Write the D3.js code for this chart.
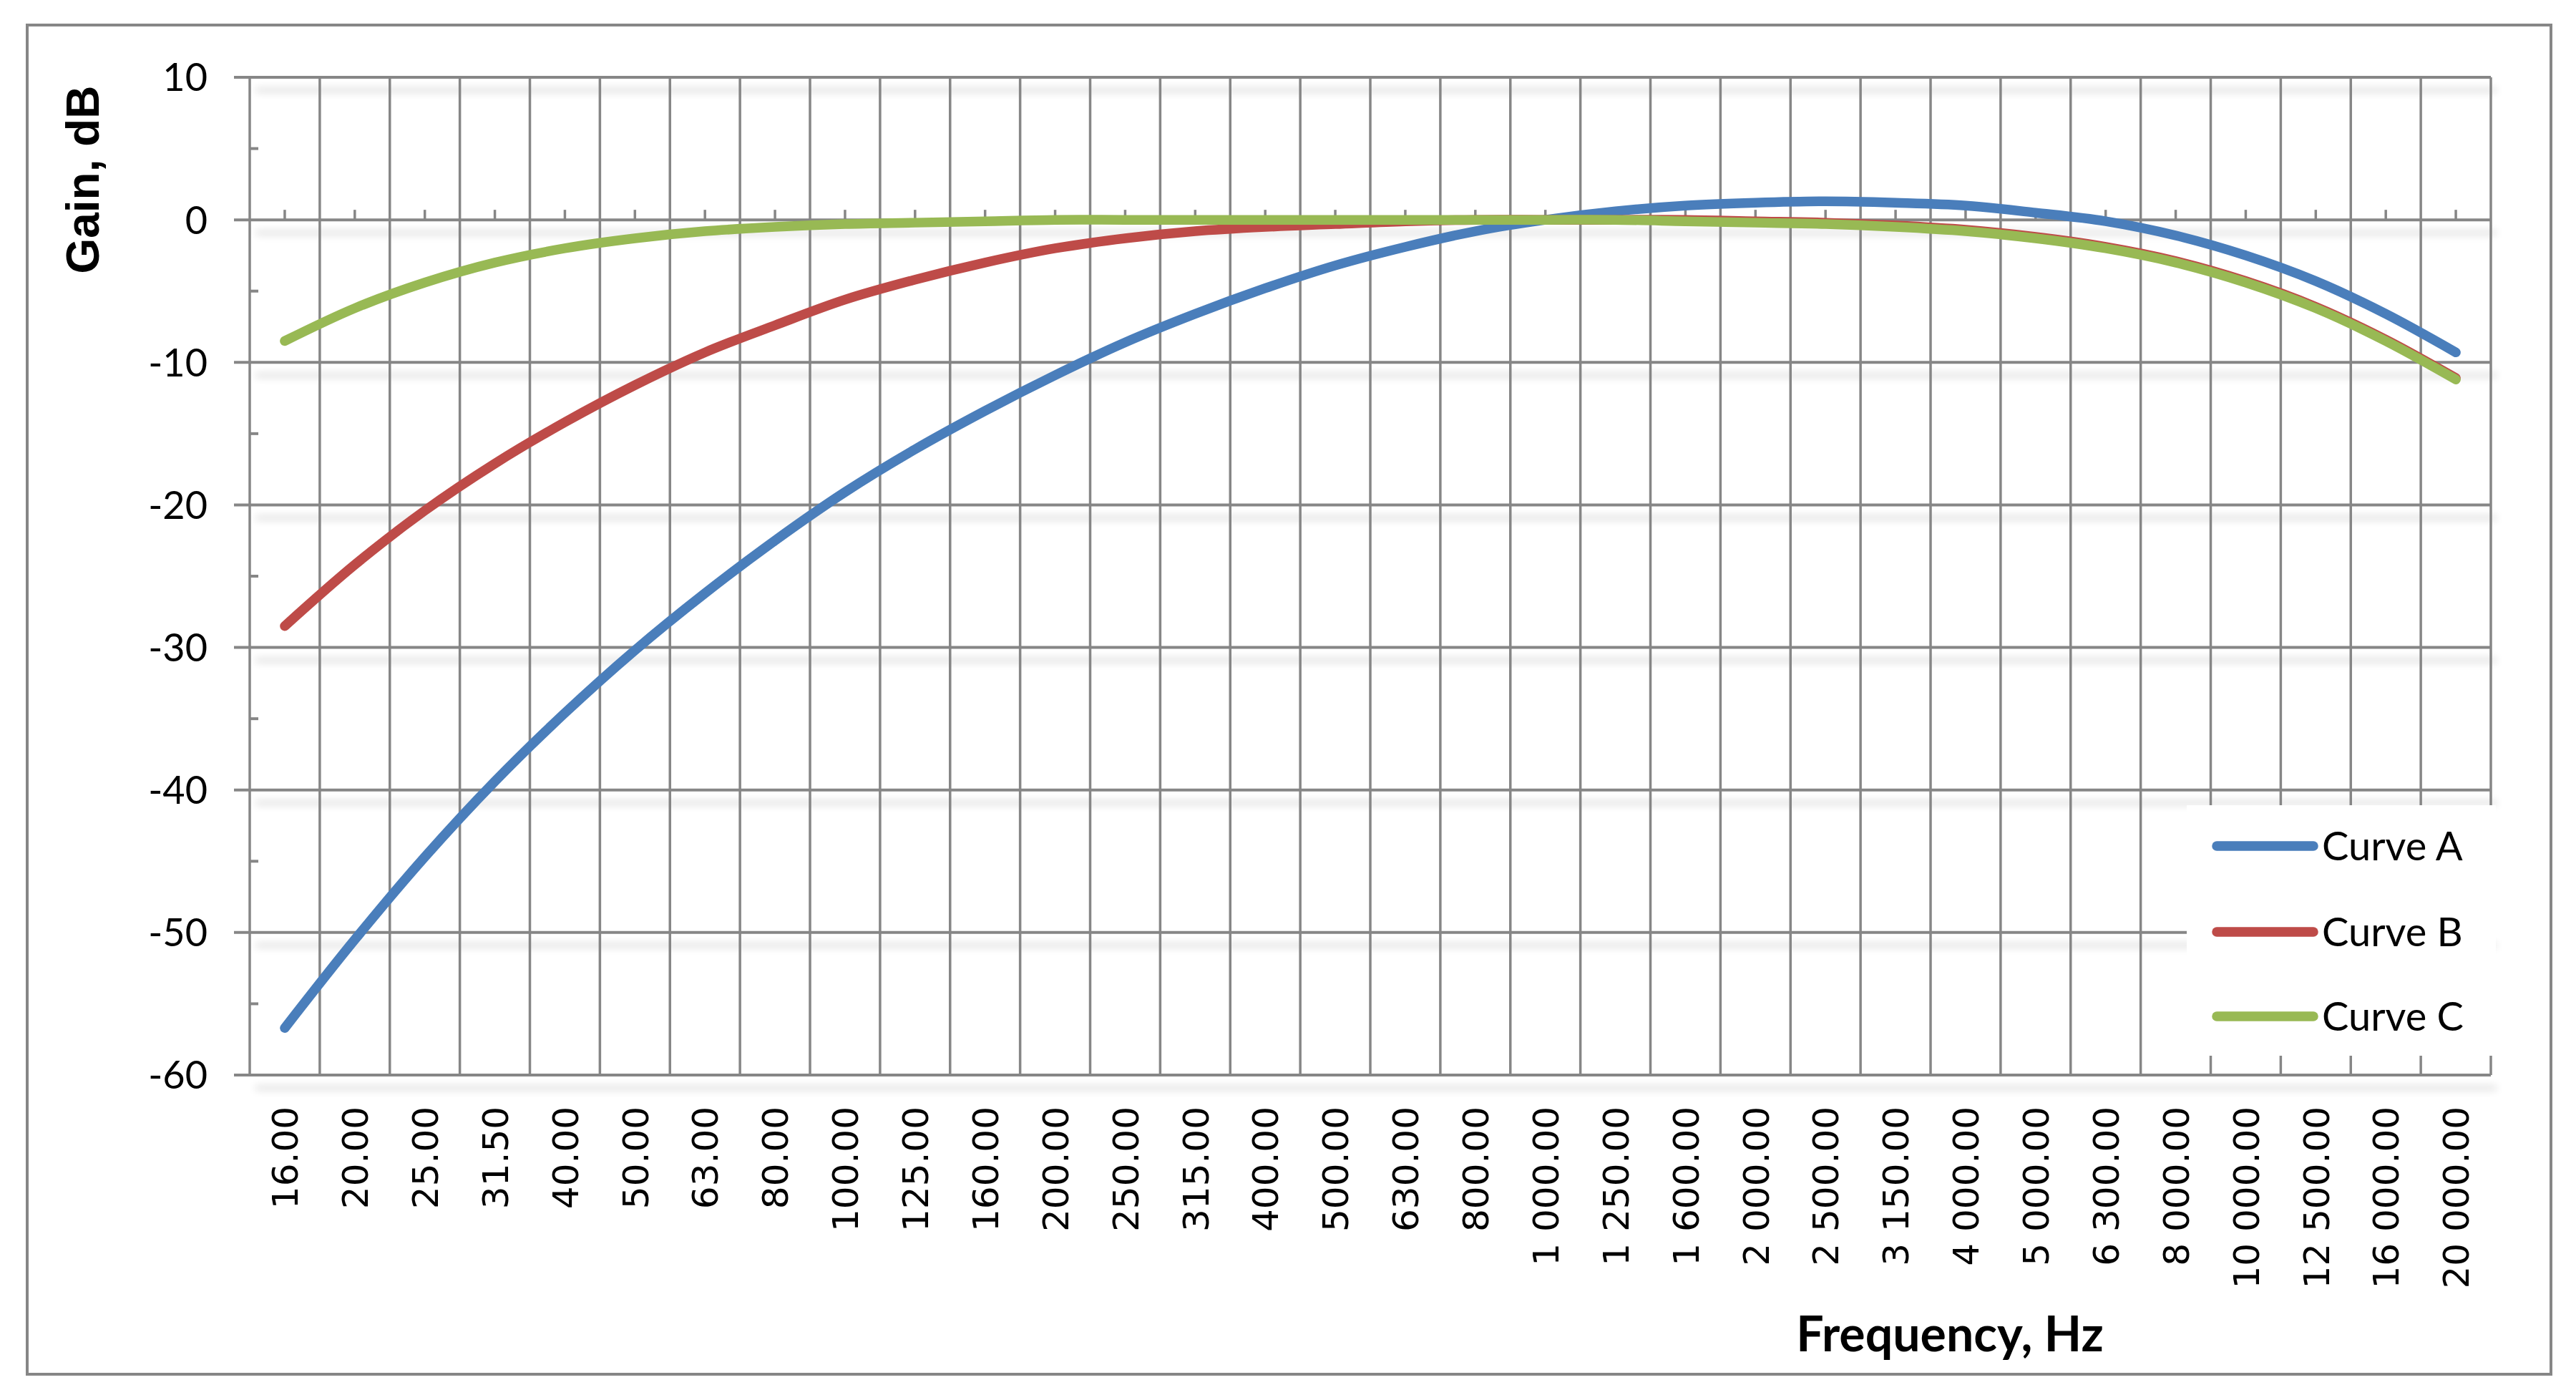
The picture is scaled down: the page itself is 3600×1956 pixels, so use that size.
<!DOCTYPE html>
<html>
<head>
<meta charset="utf-8">
<script src="https://cdn.jsdelivr.net/npm/d3@7"></script>
<style>
  html, body { margin: 0; padding: 0; background: #ffffff; }
  svg { display: block; }
</style>
</head>
<body>
<svg id="chart" width="3600" height="1956"></svg>
<script>
// ---------------- DATA ----------------
const frequencies = [16, 20, 25, 31.5, 40, 50, 63, 80, 100, 125, 160, 200, 250, 315, 400, 500,
  630, 800, 1000, 1250, 1600, 2000, 2500, 3150, 4000, 5000, 6300, 8000, 10000, 12500, 16000, 20000];

const curveA = [-56.7, -50.5, -44.7, -39.4, -34.6, -30.2, -26.2, -22.5, -19.1, -16.1, -13.4, -10.9,
  -8.6, -6.6, -4.8, -3.2, -1.9, -0.8, 0.0, 0.6, 1.0, 1.2, 1.3, 1.2, 1.0, 0.5, -0.1, -1.1, -2.5, -4.3, -6.6, -9.3];

const curveB = [-28.5, -24.2, -20.4, -17.1, -14.2, -11.6, -9.3, -7.4, -5.6, -4.2, -3.0, -2.0,
  -1.3, -0.8, -0.5, -0.3, -0.1, 0.0, 0.0, 0.0, 0.0, -0.1, -0.2, -0.4, -0.7, -1.2, -1.9, -2.9, -4.3, -6.1, -8.4, -11.1];

const curveC = [-8.5, -6.2, -4.4, -3.0, -2.0, -1.3, -0.8, -0.5, -0.3, -0.2, -0.1, 0.0,
  0.0, 0.0, 0.0, 0.0, 0.0, 0.0, 0.0, 0.0, -0.1, -0.2, -0.3, -0.5, -0.8, -1.3, -2.0, -3.0, -4.4, -6.2, -8.5, -11.2];

const seriesNames = ["Curve A", "Curve B", "Curve C"];
const seriesColors = ["#4A7EBB", "#BE4B48", "#98B954"];

const yTicks = [10, 0, -10, -20, -30, -40, -50, -60];
const yMinorTicks = [5, -5, -15, -25, -35, -45, -55];
const yTitle = "Gain, dB";
const xTitle = "Frequency, Hz";

// ---------------- LAYOUT ----------------
const svg = d3.select("#chart");
const plot = { left: 349, right: 3481, top: 108, bottom: 1502 };
const gridColor = "#868686";
const lineWidth = 13.5;

const fmtLocale = d3.formatLocale({ decimal: ".", thousands: " ", grouping: [3], currency: ["", ""] });
const fmtFreq = fmtLocale.format(",.2f");
const xLabels = frequencies.map(fmtFreq);

const x = d3.scaleBand().domain(xLabels).range([plot.left, plot.right]).padding(0);
const y = d3.scaleLinear().domain([-60, 10]).range([plot.bottom, plot.top]);
const cx = lbl => x(lbl) + x.bandwidth() / 2;

// shadow filter for horizontal gridlines
const defs = svg.append("defs");
const f = defs.append("filter").attr("id", "shadow")
  .attr("filterUnits", "userSpaceOnUse")
  .attr("x", 0).attr("y", 0).attr("width", 3600).attr("height", 1956);
f.append("feGaussianBlur").attr("in", "SourceAlpha").attr("stdDeviation", 6).attr("result", "blur");
f.append("feOffset").attr("in", "blur").attr("dx", 8).attr("dy", 18).attr("result", "off");
f.append("feComponentTransfer").attr("in", "off").attr("result", "offA")
  .append("feFuncA").attr("type", "linear").attr("slope", 0.22);
const fm = f.append("feMerge");
fm.append("feMergeNode").attr("in", "offA");

// outer chart border
svg.append("rect")
  .attr("x", 38).attr("y", 35).attr("width", 3527).attr("height", 1885)
  .attr("fill", "#ffffff").attr("stroke", gridColor).attr("stroke-width", 4);

// horizontal gridline shadows
svg.append("g").attr("filter", "url(#shadow)")
  .selectAll("line").data(yTicks).join("line")
  .attr("x1", plot.left).attr("x2", plot.right)
  .attr("y1", d => y(d)).attr("y2", d => y(d))
  .attr("stroke", "#000").attr("stroke-width", 4);

// vertical gridlines at category boundaries
const boundaries = xLabels.map(l => x(l)).concat([plot.right]);
svg.append("g").selectAll("line").data(boundaries).join("line")
  .attr("x1", d => d).attr("x2", d => d)
  .attr("y1", plot.top).attr("y2", plot.bottom)
  .attr("stroke", gridColor).attr("stroke-width", 3.5);

// horizontal gridlines (with outside major tick)
svg.append("g").selectAll("line").data(yTicks).join("line")
  .attr("x1", plot.left - 22).attr("x2", plot.right)
  .attr("y1", d => y(d)).attr("y2", d => y(d))
  .attr("stroke", gridColor).attr("stroke-width", 4);

// y minor ticks (inside)
svg.append("g").selectAll("line").data(yMinorTicks).join("line")
  .attr("x1", plot.left).attr("x2", plot.left + 12)
  .attr("y1", d => y(d)).attr("y2", d => y(d))
  .attr("stroke", gridColor).attr("stroke-width", 4);

// x-axis tick marks on the zero line at category centres
svg.append("g").selectAll("line").data(xLabels).join("line")
  .attr("x1", d => cx(d)).attr("x2", d => cx(d))
  .attr("y1", y(0)).attr("y2", y(0) - 14)
  .attr("stroke", gridColor).attr("stroke-width", 3.5);

// y tick labels
svg.append("g").selectAll("text").data(yTicks).join("text")
  .attr("x", 290).attr("y", d => y(d))
  .attr("dy", "0.36em")
  .attr("text-anchor", "end")
  .attr("font-family", "Lato, 'Open Sans', sans-serif")
  .attr("font-size", 54)
  .attr("fill", "#000")
  .text(d => String(d));

// x tick labels, rotated
svg.append("g").selectAll("text").data(xLabels).join("text")
  .attr("transform", d => `translate(${cx(d)},1546) rotate(-90)`)
  .attr("dy", "0.365em")
  .attr("text-anchor", "end")
  .attr("font-family", "'DejaVu Sans', sans-serif")
  .attr("font-size", 50)
  .attr("fill", "#000")
  .text(d => d);

// series lines
const allSeries = [curveA, curveB, curveC];
const lineGen = d3.line()
  .x((d, i) => cx(xLabels[i]))
  .y(d => y(d))
  .curve(d3.curveCatmullRom.alpha(0.5));

svg.append("g").selectAll("path").data(allSeries).join("path")
  .attr("d", d => lineGen(d))
  .attr("fill", "none")
  .attr("stroke", (d, i) => seriesColors[i])
  .attr("stroke-width", lineWidth)
  .attr("stroke-linecap", "round")
  .attr("stroke-linejoin", "round");

// legend
const legend = svg.append("g");
legend.append("rect")
  .attr("x", 3056).attr("y", 1125).attr("width", 432).attr("height", 350)
  .attr("fill", "#ffffff");
const legendRowsY = [1182, 1302, 1420];
const items = legend.selectAll("g.item").data(seriesNames).join("g").attr("class", "item");
items.append("line")
  .attr("x1", 3098).attr("x2", 3233)
  .attr("y1", (d, i) => legendRowsY[i]).attr("y2", (d, i) => legendRowsY[i])
  .attr("stroke", (d, i) => seriesColors[i])
  .attr("stroke-width", lineWidth).attr("stroke-linecap", "round");
items.append("text")
  .attr("x", 3245).attr("y", (d, i) => legendRowsY[i])
  .attr("dy", "0.36em")
  .attr("font-family", "Lato, 'Open Sans', sans-serif")
  .attr("font-size", 56)
  .attr("fill", "#000")
  .text(d => d);

// axis titles
svg.append("text")
  .attr("transform", "translate(138,251) rotate(-90)")
  .attr("text-anchor", "middle")
  .attr("font-family", "'Liberation Sans', Arial, sans-serif")
  .attr("font-weight", "bold")
  .attr("font-size", 64)
  .attr("fill", "#000")
  .text(yTitle);

svg.append("text")
  .attr("x", 2725).attr("y", 1888)
  .attr("text-anchor", "middle")
  .attr("font-family", "Lato, 'Open Sans', sans-serif")
  .attr("font-weight", "bold")
  .attr("font-size", 68)
  .attr("fill", "#000")
  .text(xTitle);
</script>
</body>
</html>
